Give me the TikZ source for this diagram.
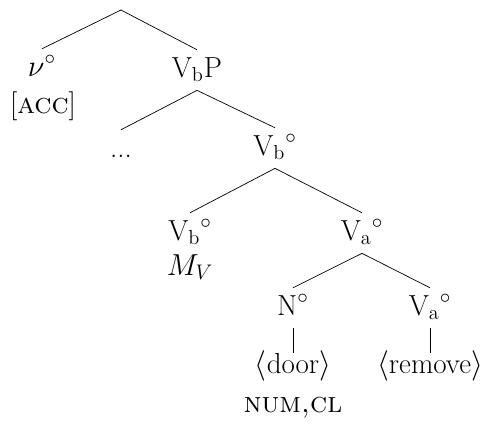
\documentclass[tikz,border=0pt]{standalone}
\usepackage{fontspec}
\usetikzlibrary{positioning}

\begin{document}
\begin{tikzpicture}[x=0.02cm, y=-0.02cm,
    every node/.style={font=\fontsize{16.5}{20}\selectfont},
    cat/.style={anchor=base, inner sep=0pt, text height=15.3pt, text depth=7.4pt},
    leaf/.style={anchor=base, inner sep=0pt, text height=11.3pt, text depth=5pt}]
  \useasboundingbox (0,0) rectangle (486,423);
  \coordinate (top) at (121,10);
  \node[cat] (v) at (42,76) {$\nu^\circ$};
  \node[anchor=base] (acc) at (43,113) {[\textsc{acc}]};
  \node[cat] (vbp) at (197,77) {V$_\mathrm{b}$P};
  \node[cat] (dots) at (121,157) {...};
  \node[cat] (vb1) at (275,155) {V$_\mathrm{b}{}^{\circ}$};
  \node[cat] (vb2) at (190,240) {V$_\mathrm{b}{}^{\circ}$};
  \node[anchor=base] (mv) at (190,275) {$M_V$};
  \node[cat] (va1) at (362,240) {V$_\mathrm{a}{}^{\circ}$};
  \node[cat] (n) at (293,315) {N$^\circ$};
  \node[cat] (va2) at (430,315) {V$_\mathrm{a}{}^{\circ}$};
  \node[leaf] (door) at (293,373) {$\langle$door$\rangle$};
  \node[anchor=base] (numcl) at (293,412) {\textsc{num,cl}};
  \node[leaf] (remove) at (430,373) {$\langle$remove$\rangle$};
  \path
    (top) edge (v.north) edge (vbp.north)
    (vbp.south) edge (dots.north) edge (vb1.north)
    (vb1.south) edge (vb2.north) edge (va1.north)
    (va1.south) edge (n.north) edge (va2.north)
    (n.south) edge (door.north)
    (va2.south) edge (remove.north);
\end{tikzpicture}
\end{document}
